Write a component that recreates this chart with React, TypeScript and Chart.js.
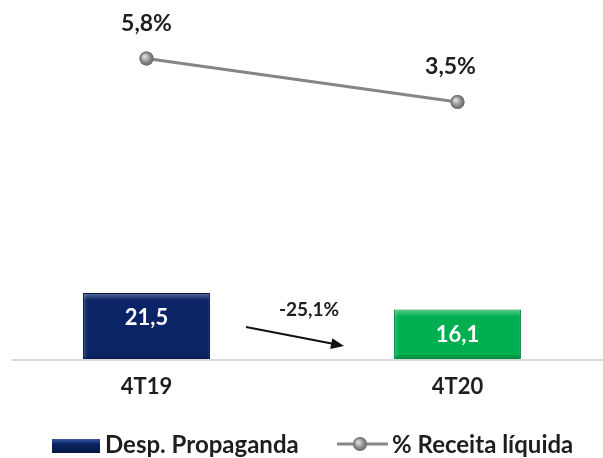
import React, { useEffect, useRef } from 'react';
import { Chart, registerables } from 'chart.js';

Chart.register(...registerables);

const categories = ['4T19', '4T20'];
const despPropaganda = [21.5, 16.1];
const receitaPct = [5.8, 3.5];
const seriesNames = ['Desp. Propaganda', '% Receita líquida'];
const changeLabel = '-25,1%';
const barColors = ['#0b2466', '#00b050'];
const barEdgeColors = ['#061842', '#00873c'];

const FONT = 'Lato, "Open Sans", sans-serif';
const TEXT = '#1e1e1e';
const OFFSET = 9;

const fmt = (v: number) => v.toFixed(1).replace('.', ',');

const sphere = (ctx: CanvasRenderingContext2D, x: number, y: number, r: number) => {
  const g = ctx.createRadialGradient(x - 2, y - 2, 1, x, y, r);
  g.addColorStop(0, '#d9d9d9');
  g.addColorStop(0.6, '#8c8c8c');
  g.addColorStop(1, '#666666');
  ctx.fillStyle = g;
  ctx.beginPath();
  ctx.arc(x, y, r, 0, Math.PI * 2);
  ctx.fill();
};

const decorPlugin = {
  id: 'decor',
  beforeDatasetsDraw(chart: any) {
    const { ctx, chartArea } = chart;
    ctx.save();
    ctx.strokeStyle = '#d9d9d9';
    ctx.lineWidth = 2;
    ctx.beginPath();
    ctx.moveTo(12 + OFFSET, chartArea.bottom + 1);
    ctx.lineTo(chart.width, chartArea.bottom + 1);
    ctx.stroke();
    ctx.restore();
  },
  afterDatasetsDraw(chart: any) {
    const { ctx } = chart;
    const barMeta = chart.getDatasetMeta(0);
    const lineMeta = chart.getDatasetMeta(1);
    ctx.save();
    // bevel on bars
    barMeta.data.forEach((bar: any) => {
      const { x, y, base, width } = bar.getProps(['x', 'y', 'base', 'width'], true);
      const l = x - width / 2;
      const g = ctx.createLinearGradient(0, y, 0, y + 7);
      g.addColorStop(0, 'rgba(255,255,255,0.35)');
      g.addColorStop(1, 'rgba(255,255,255,0)');
      ctx.fillStyle = g;
      ctx.fillRect(l + 1, y + 1, width - 2, 7);
      const gl = ctx.createLinearGradient(l, 0, l + 5, 0);
      gl.addColorStop(0, 'rgba(255,255,255,0.18)');
      gl.addColorStop(1, 'rgba(255,255,255,0)');
      ctx.fillStyle = gl;
      ctx.fillRect(l + 1, y + 1, 5, base - y - 2);
      const gb = ctx.createLinearGradient(0, base - 5, 0, base);
      gb.addColorStop(0, 'rgba(0,0,0,0)');
      gb.addColorStop(1, 'rgba(0,0,0,0.25)');
      ctx.fillStyle = gb;
      ctx.fillRect(l + 1, base - 5, width - 2, 5);
    });
    // bar value labels
    ctx.fillStyle = '#ffffff';
    ctx.font = `bold 22px ${FONT}`;
    ctx.textAlign = 'center';
    ctx.textBaseline = 'middle';
    barMeta.data.forEach((bar: any, i: number) => {
      const { x, y } = bar.getProps(['x', 'y'], true);
      ctx.fillText(fmt(despPropaganda[i]), x, y + 25);
    });
    // spheres on line points
    lineMeta.data.forEach((pt: any) => {
      const { x, y } = pt.getProps(['x', 'y'], true);
      sphere(ctx, x, y, 7);
    });
    // pct labels
    ctx.fillStyle = TEXT;
    ctx.font = `bold 23px ${FONT}`;
    lineMeta.data.forEach((pt: any, i: number) => {
      const { x, y } = pt.getProps(['x', 'y'], true);
      ctx.fillText(fmt(receitaPct[i]) + '%', x - (i === 1 ? 7 : 0), y - 35);
    });
    // change arrow
    const x0 = barMeta.data[0].x;
    const x1 = barMeta.data[1].x;
    const mid = (x0 + x1) / 2;
    const ax0 = mid - 56, ay0 = 327, ax1 = mid + 42, ay1 = 346;
    ctx.strokeStyle = '#111111';
    ctx.fillStyle = '#111111';
    ctx.lineWidth = 2;
    const ang = Math.atan2(ay1 - ay0, ax1 - ax0);
    ctx.beginPath();
    ctx.moveTo(ax0, ay0);
    ctx.lineTo(ax1 - 10 * Math.cos(ang), ay1 - 10 * Math.sin(ang));
    ctx.stroke();
    ctx.beginPath();
    ctx.moveTo(ax1, ay1);
    ctx.lineTo(ax1 - 13 * Math.cos(ang) + 5.5 * Math.sin(ang), ay1 - 13 * Math.sin(ang) - 5.5 * Math.cos(ang));
    ctx.lineTo(ax1 - 13 * Math.cos(ang) - 5.5 * Math.sin(ang), ay1 - 13 * Math.sin(ang) + 5.5 * Math.cos(ang));
    ctx.closePath();
    ctx.fill();
    ctx.fillStyle = TEXT;
    ctx.font = `bold 19px ${FONT}`;
    ctx.fillText(changeLabel, mid + 7, 310);
    ctx.restore();
  },
  afterDraw(chart: any) {
    const { ctx } = chart;
    ctx.save();
    const cy = 445;
    // bar swatch
    const sx = 52 + OFFSET;
    const g = ctx.createLinearGradient(0, cy - 6, 0, cy + 8);
    g.addColorStop(0, '#3b5ba8');
    g.addColorStop(0.35, barColors[0]);
    g.addColorStop(1, '#061842');
    ctx.fillStyle = g;
    ctx.fillRect(sx, cy - 6, 48, 14);
    ctx.fillStyle = TEXT;
    ctx.font = `bold 24px ${FONT}`;
    ctx.textAlign = 'left';
    ctx.textBaseline = 'middle';
    ctx.fillText(seriesNames[0], 105 + OFFSET, cy);
    // line marker
    const lx0 = 337 + OFFSET, lx1 = 388 + OFFSET;
    ctx.strokeStyle = '#858585';
    ctx.lineWidth = 3;
    ctx.beginPath();
    ctx.moveTo(lx0, cy - 1);
    ctx.lineTo(lx1, cy - 1);
    ctx.stroke();
    sphere(ctx, 360 + OFFSET, cy - 1, 7);
    ctx.fillStyle = TEXT;
    ctx.fillText(seriesNames[1], 392 + OFFSET, cy);
    ctx.restore();
  },
};

export default function App() {
  const canvasRef = useRef<HTMLCanvasElement | null>(null);

  useEffect(() => {
    document.body.style.margin = '0';
    const canvas = canvasRef.current;
    if (!canvas) return;
    const chart = new Chart(canvas, {
      type: 'bar',
      data: {
        labels: categories,
        datasets: [
          {
            type: 'bar',
            label: seriesNames[0],
            data: despPropaganda,
            backgroundColor: barColors,
            borderColor: barEdgeColors,
            borderWidth: 1,
            barPercentage: 0.408,
            categoryPercentage: 1,
            yAxisID: 'y',
            order: 1,
          },
          {
            type: 'line',
            label: seriesNames[1],
            data: receitaPct,
            borderColor: '#858585',
            borderWidth: 3,
            pointRadius: 7,
            pointBackgroundColor: '#8c8c8c',
            pointBorderWidth: 0,
            yAxisID: 'y2',
            order: 0,
          } as any,
        ],
      },
      options: {
        responsive: false,
        animation: false,
        devicePixelRatio: 1,
        layout: { autoPadding: false, padding: { top: 0, bottom: 63, left: 0, right: 0 } },
        plugins: {
          legend: { display: false },
          tooltip: { enabled: false },
        },
        scales: {
          x: {
            type: 'category',
            offset: true,
            grid: { display: false, drawTicks: false },
            border: { display: false },
            ticks: {
              color: TEXT,
              font: { family: FONT, size: 22, weight: 'bold' },
              padding: 15,
            },
            afterFit: (s: any) => { s.height = 36; },
          },
          y: { display: false, min: 0, max: 116.9 },
          y2: { display: false, min: -10.09, max: 8.89, position: 'right' },
        },
      },
      plugins: [decorPlugin],
    } as any);
    return () => chart.destroy();
  }, []);

  return (
    <div style={{ position: 'fixed', left: 0, top: 0, width: 603, height: 458, overflow: 'hidden', background: '#fff' }}>
      <canvas
        ref={canvasRef}
        width={622}
        height={458}
        style={{ position: 'absolute', left: -OFFSET, top: 0, width: 622, height: 458 }}
      />
    </div>
  );
}
